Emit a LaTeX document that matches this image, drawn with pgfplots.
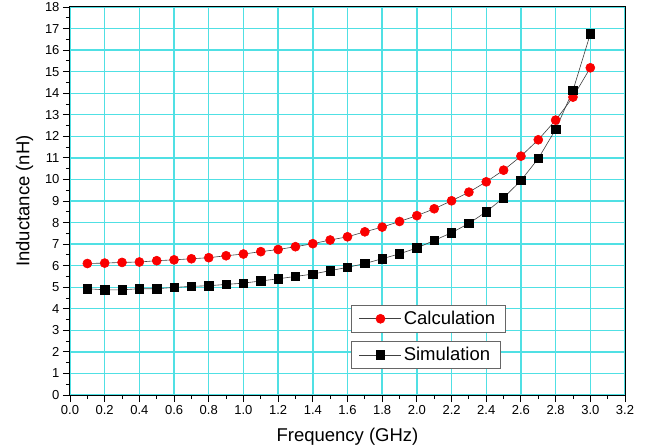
\documentclass[border=0pt]{standalone}
\usepackage{fontspec}
\setmainfont{Liberation Sans}
\usepackage{pgfplots}
\pgfplotsset{compat=1.18}
\usetikzlibrary{calc}
\definecolor{gridcyan}{RGB}{80,224,228}
\definecolor{calcred}{RGB}{250,0,0}
\begin{document}
\begin{tikzpicture}
\pgfplotsset{
  legimg/.style={legend image code/.code={
    \draw[mark repeat=2,mark phase=2] plot coordinates {(0pt,0pt) (21pt,0pt) (42pt,0pt)};}},
  calcstyle/.style={draw=black!75, line width=0.6pt, mark=*, mark size=4.5pt,
    mark options={draw=calcred, fill=calcred, solid}},
  simstyle/.style={draw=black!75, line width=0.6pt, mark=square*, mark size=4.2pt,
    mark options={draw=black, fill=black, solid}},
  myleg/.style={draw=black!60, fill=white, line width=0.7pt, font=\fontsize{18.5}{20}\selectfont,
    inner xsep=8pt, inner ysep=4pt, cells={anchor=west}},
}
\begin{axis}[
  name=ax,
  scale only axis,
  width=555pt, height=388pt,
  xmin=0, xmax=3.2, ymin=0, ymax=18,
  xtick={0,0.2,...,3.21}, ytick={0,1,...,18},
  minor x tick num=1, minor y tick num=1,
  tick pos=left, tick align=outside,
  major tick length=7pt, minor tick length=4pt,
  every tick/.style={black, line width=0.9pt},
  axis line style={black, line width=1pt},
  grid=major,
  major grid style={gridcyan, line width=1.4pt},
  xticklabel style={/pgf/number format/.cd, fixed, fixed zerofill, precision=1},
  /pgf/number format/assume math mode=true,
  tick label style={font=\fontsize{13}{14}\selectfont},
  xlabel={Frequency (GHz)}, ylabel={Inductance (nH)},
  label style={font=\fontsize{18.5}{20}\selectfont},
  xlabel style={yshift=-6pt},
  ylabel style={yshift=5pt},
  legimg,
  legend style={myleg, at={(0.506,0.232)}, anchor=north west},
]
\addplot[calcstyle] coordinates {
(0.1,6.10) (0.2,6.12) (0.3,6.15) (0.4,6.17) (0.5,6.23) (0.6,6.27) (0.7,6.32) (0.8,6.37)
(0.9,6.46) (1.0,6.54) (1.1,6.65) (1.2,6.75) (1.3,6.88) (1.4,7.02) (1.5,7.19) (1.6,7.34)
(1.7,7.57) (1.8,7.79) (1.9,8.05) (2.0,8.32) (2.1,8.64) (2.2,9.01) (2.3,9.41) (2.4,9.89)
(2.5,10.43) (2.6,11.08) (2.7,11.84) (2.8,12.75) (2.9,13.82) (3.0,15.18)
};
\addlegendentry{Calculation}
\addplot[simstyle] coordinates {
(0.1,4.93) (0.2,4.88) (0.3,4.88) (0.4,4.93) (0.5,4.93) (0.6,4.99) (0.7,5.04) (0.8,5.07)
(0.9,5.13) (1.0,5.19) (1.1,5.29) (1.2,5.39) (1.3,5.50) (1.4,5.61) (1.5,5.77) (1.6,5.92)
(1.7,6.10) (1.8,6.32) (1.9,6.55) (2.0,6.82) (2.1,7.17) (2.2,7.53) (2.3,7.96) (2.4,8.50)
(2.5,9.15) (2.6,9.95) (2.7,10.97) (2.8,12.32) (2.9,14.13) (3.0,16.75)
};
\end{axis}
\begin{axis}[
  scale only axis,
  width=555pt, height=388pt,
  xmin=0, xmax=3.2, ymin=0, ymax=18,
  hide axis,
  legimg,
  legend style={myleg, at={(0.506,0.139)}, anchor=north west},
]
\addlegendimage{simstyle}
\addlegendentry{Simulation}
\end{axis}
\pgfresetboundingbox
\path ($(ax.south west)+(-70pt,-50pt)$) rectangle ($(ax.north east)+(21pt,7pt)$);
\end{tikzpicture}
\end{document}
